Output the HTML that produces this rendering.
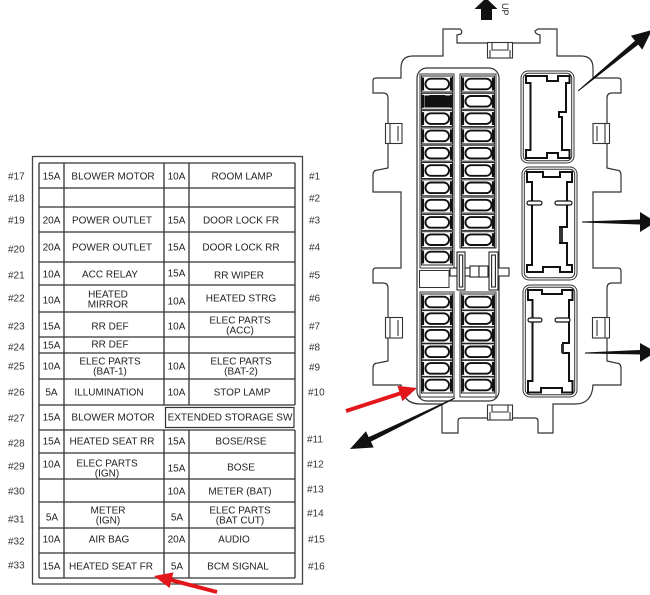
<!DOCTYPE html>
<html><head><meta charset="utf-8"><style>
html,body{margin:0;padding:0;background:#fff;}
svg{display:block;}
text{font-family:"Liberation Sans",Arial,sans-serif;}
</style></head><body>
<svg width="650" height="595" viewBox="0 0 650 595" xmlns="http://www.w3.org/2000/svg">
<defs>
<g id="fL">
 <rect x="421.5" y="-8" width="31" height="16" fill="#fff" stroke="#222" stroke-width="1"/>
 <line x1="422.8" y1="-6.5" x2="422.8" y2="6.5" stroke="#111" stroke-width="2.6"/>
 <line x1="451.2" y1="-6.5" x2="451.2" y2="6.5" stroke="#111" stroke-width="2.6"/>
 <rect x="425.5" y="-5.3" width="23.5" height="10.6" rx="5.3" fill="#fff" stroke="#111" stroke-width="1.9"/>
</g>
<g id="fR">
 <rect x="461.5" y="-8" width="33" height="16" fill="#fff" stroke="#222" stroke-width="1"/>
 <line x1="462.8" y1="-6.5" x2="462.8" y2="6.5" stroke="#111" stroke-width="2.6"/>
 <line x1="493.2" y1="-6.5" x2="493.2" y2="6.5" stroke="#111" stroke-width="2.6"/>
 <rect x="465.5" y="-5.3" width="26" height="10.6" rx="5.3" fill="#fff" stroke="#111" stroke-width="1.9"/>
</g>
</defs>

<!-- ================= TABLE ================= -->
<rect x="32.5" y="156.5" width="270" height="427.5" fill="none" stroke="#444" stroke-width="1.3"/>
<path d="M39 163H295 M39 188H295 M39 207H295 M39 232H295 M39 262H295 M39 285H295 M39 312H295 M39 337H295 M39 353H295 M39 379H295 M39 405H295 M39 430H295 M39 453H295 M39 479H295 M39 502H295 M39 528H295 M39 553H295 M39 578H295
 M39 163V578 M295 163V405 M295 430V578 M64 163V578 M164 163V405 M164 430V578 M189 163V405 M189 430V578" fill="none" stroke="#333" stroke-width="1.3"/>
<rect x="165.5" y="407.5" width="128.5" height="20" fill="none" stroke="#333" stroke-width="1.2"/>

<g font-size="10" fill="#222" text-anchor="middle">
 <!-- 17 -->
 <text x="51.5" y="179.6">15A</text><text x="113" y="179.6">BLOWER MOTOR</text><text x="176.5" y="179.6">10A</text><text x="242" y="179.6">ROOM LAMP</text>
 <!-- 19 -->
 <text x="51.5" y="223.6">20A</text><text x="112" y="223.6">POWER OUTLET</text><text x="176.5" y="223.6">15A</text><text x="241" y="223.6">DOOR LOCK FR</text>
 <!-- 20 -->
 <text x="51.5" y="250.6">20A</text><text x="112" y="250.6">POWER OUTLET</text><text x="176.5" y="250.6">15A</text><text x="241" y="250.6">DOOR LOCK RR</text>
 <!-- 21 -->
 <text x="51.5" y="277.6">10A</text><text x="110" y="277.6">ACC RELAY</text><text x="176.5" y="276.6">15A</text><text x="239" y="278.6">RR WIPER</text>
 <!-- 22 -->
 <text x="51.5" y="303.6">10A</text><text x="108" y="297.6">HEATED</text><text x="108" y="307.6">MIRROR</text><text x="176.5" y="304.6">10A</text><text x="241" y="301.6">HEATED STRG</text>
 <!-- 23 -->
 <text x="51.5" y="329.6">15A</text><text x="110" y="329.6">RR DEF</text><text x="176.5" y="329.6">10A</text><text x="240" y="323.6">ELEC PARTS</text><text x="240" y="333.6">(ACC)</text>
 <!-- 24 -->
 <text x="51.5" y="348.6">15A</text><text x="110" y="347.6">RR DEF</text>
 <!-- 25 -->
 <text x="51.5" y="369.6">10A</text><text x="110" y="364.6">ELEC PARTS</text><text x="110" y="374.6">(BAT-1)</text><text x="176.5" y="369.6">10A</text><text x="241" y="364.6">ELEC PARTS</text><text x="241" y="374.6">(BAT-2)</text>
 <!-- 26 -->
 <text x="51.5" y="395.6">5A</text><text x="109" y="395.6">ILLUMINATION</text><text x="176.5" y="395.6">10A</text><text x="242" y="395.6">STOP LAMP</text>
 <!-- 27 -->
 <text x="51.5" y="420.6">15A</text><text x="113" y="420.6">BLOWER MOTOR</text><text x="230" y="420.6">EXTENDED STORAGE SW</text>
 <!-- 28 -->
 <text x="51.5" y="444.6">15A</text><text x="112" y="444.6">HEATED SEAT RR</text><text x="176.5" y="444.6">15A</text><text x="241" y="444.6">BOSE/RSE</text>
 <!-- 29 -->
 <text x="51.5" y="467.6">10A</text><text x="107" y="466.6">ELEC PARTS</text><text x="107" y="476.6">(IGN)</text><text x="176.5" y="471.6">15A</text><text x="241" y="470.6">BOSE</text>
 <!-- 30 -->
 <text x="176.5" y="494.6">10A</text><text x="240" y="494.6">METER (BAT)</text>
 <!-- 31 -->
 <text x="52" y="520.6">5A</text><text x="108" y="513.6">METER</text><text x="108" y="523.6">(IGN)</text><text x="177" y="520.6">5A</text><text x="240" y="513.6">ELEC PARTS</text><text x="240" y="523.6">(BAT CUT)</text>
 <!-- 32 -->
 <text x="51.5" y="542.6">10A</text><text x="109" y="542.6">AIR BAG</text><text x="176.5" y="542.6">20A</text><text x="234" y="542.6">AUDIO</text>
 <!-- 33 -->
 <text x="51.5" y="569.6">15A</text><text x="111" y="569.6">HEATED SEAT FR</text><text x="177" y="569.6">5A</text><text x="238" y="569.6">BCM SIGNAL</text>
</g>

<g font-size="10" fill="#333">
 <text x="8" y="179.6">#17</text><text x="8" y="201.6">#18</text><text x="8" y="223.6">#19</text><text x="8" y="252.6">#20</text>
 <text x="8" y="278.6">#21</text><text x="8" y="301.6">#22</text><text x="8" y="329.6">#23</text><text x="8" y="350.6">#24</text>
 <text x="8" y="369.6">#25</text><text x="8" y="395.6">#26</text><text x="8" y="421.6">#27</text><text x="8" y="446.6">#28</text>
 <text x="8" y="469.6">#29</text><text x="8" y="494.6">#30</text><text x="8" y="522.6">#31</text><text x="8" y="544.6">#32</text>
 <text x="8" y="568.6">#33</text>
 <text x="309" y="179.6">#1</text><text x="309" y="201.6">#2</text><text x="309" y="223.6">#3</text><text x="309" y="250.6">#4</text>
 <text x="309" y="278.6">#5</text><text x="309" y="301.6">#6</text><text x="309" y="329.6">#7</text><text x="309" y="350.6">#8</text>
 <text x="309" y="370.6">#9</text><text x="308" y="395.6">#10</text><text x="307" y="442.6">#11</text><text x="307" y="467.6">#12</text>
 <text x="307" y="492.6">#13</text><text x="307" y="516.6">#14</text><text x="308" y="542.6">#15</text><text x="308" y="569.6">#16</text>
</g>

<!-- red arrow bottom of table -->
<polygon points="217.5,590.1 172,578.3 173.4,572.4 154,576 169.6,588 171,582.1 216.5,593.9" fill="#e3161b"/>

<!-- ================= HOUSING ================= -->
<path d="M457 43 L540 43 L540 35 Q535 34 535 31 L538 29 L557 29 L557 56 L581 56 Q593 56 593 68 L593 78 L618 78 Q621 78 621 81 L621 93 L612 93 Q607 93 607 98 L607 168 L616 170 Q621 170 621 175 L621 192 L593 192 L593 268 L618 268 Q621 268 621 271 L621 283 L612 283 Q607 283 607 288 L607 361 L616 363 Q621 363 621 368 L621 385 L593 385 Q592 404 575 404 L553 404 L553 433 L538 433 L538 421 Q538 418 535 418 L461 418 Q458 418 458 421 L458 433 L442 433 L442 404 L420 404 Q403 404 401 385 L373 385 L373 368 Q373 363 378 363 L388 361 L388 288 Q388 283 383 283 L373 283 L373 271 Q373 268 376 268 L401 268 L401 192 L373 192 L373 175 Q373 170 378 170 L388 168 L388 98 Q388 93 383 93 L373 93 L373 81 Q373 78 376 78 L401 78 L401 68 Q401 56 413 56 L443 56 L443 29 L460 29 Q463 31 461 34 L457 35 Z" fill="#fff" stroke="#333" stroke-width="1.2"/>

<!-- clips -->
<g fill="#fff" stroke="#333" stroke-width="1.1">
 <rect x="487.5" y="42.5" width="25" height="15.5"/>
 <path d="M492 43V50H508V43 M490 50V58 M510 50V58" fill="none"/>
 <rect x="487.5" y="405" width="25" height="15"/>
 <path d="M492 405V412H508V405 M490 412V420 M510 412V420" fill="none"/>
 <rect x="385.5" y="123.5" width="16.5" height="20"/>
 <path d="M390 124V143 M398 126V141" fill="none"/>
 <rect x="385.5" y="317.5" width="17" height="20.5"/>
 <path d="M390 318V338 M398 320V336" fill="none"/>
 <rect x="593" y="123.5" width="16.5" height="20"/>
 <path d="M605 124V143 M597 126V141" fill="none"/>
 <rect x="592.5" y="317.5" width="17" height="20.5"/>
 <path d="M605 318V338 M597 320V336" fill="none"/>
</g>

<!-- fuse block -->
<rect x="417" y="68" width="82" height="333" rx="10" fill="#fff" stroke="#333" stroke-width="1.2"/>
<g fill="none" stroke="#333" stroke-width="1">
 <rect x="420" y="74" width="34" height="194"/>
 <rect x="460" y="74" width="36" height="174"/>
 <rect x="420" y="292" width="34" height="105"/>
 <rect x="460" y="292" width="36" height="105"/>
 <rect x="419.5" y="270.5" width="29.5" height="17"/>
</g>

<use href="#fL" y="84"/><use href="#fL" y="101.3"/><use href="#fL" y="118.6"/><use href="#fL" y="135.9"/>
<use href="#fL" y="153.2"/><use href="#fL" y="170.5"/><use href="#fL" y="187.8"/><use href="#fL" y="205.1"/>
<use href="#fL" y="222.4"/><use href="#fL" y="239.7"/><use href="#fL" y="257"/>
<use href="#fR" y="84"/><use href="#fR" y="101.3"/><use href="#fR" y="118.6"/><use href="#fR" y="135.9"/>
<use href="#fR" y="153.2"/><use href="#fR" y="170.5"/><use href="#fR" y="187.8"/><use href="#fR" y="205.1"/>
<use href="#fR" y="222.4"/><use href="#fR" y="239.7"/>
<use href="#fL" y="302"/><use href="#fL" y="318.6"/><use href="#fL" y="335.2"/><use href="#fL" y="351.8"/><use href="#fL" y="368.4"/><use href="#fL" y="385"/>
<use href="#fR" y="302"/><use href="#fR" y="318.6"/><use href="#fR" y="335.2"/><use href="#fR" y="351.8"/><use href="#fR" y="368.4"/><use href="#fR" y="385"/>
<rect x="424.5" y="95.5" width="25.5" height="12" fill="#111"/>

<!-- jumper between sections -->
<g fill="#fff" stroke="#222" stroke-width="1.1">
 <rect x="450" y="268" width="59" height="8"/>
 <rect x="457" y="252" width="8" height="38"/>
 <rect x="459.3" y="255" width="3.4" height="32"/>
 <rect x="489" y="252" width="9" height="38"/>
 <rect x="491.6" y="255" width="3.8" height="32"/>
 <rect x="470" y="266" width="9" height="11"/>
 <rect x="479" y="266" width="9" height="11"/>
</g>

<!-- right connectors -->
<g fill="#fff" stroke="#333" stroke-width="1">
 <rect x="521" y="71" width="53" height="92" rx="7"/>
 <rect x="523.3" y="73.3" width="48.4" height="87.4" rx="5"/>
 <rect x="522" y="167" width="55" height="113" rx="7"/>
 <rect x="524.3" y="169.3" width="50.4" height="108.4" rx="5"/>
 <rect x="523" y="285" width="54" height="112" rx="7"/>
 <rect x="525.3" y="287.3" width="49.4" height="107.4" rx="5"/>
</g>
<g fill="#fff" stroke="#111" stroke-width="2">
 <polygon points="526,76 547,76 547,81 558,81 558,76 569.5,76 569.5,83 566,83 566,112 559,112 559,117 562,117 562,150 569.5,150 569.5,158 558,158 558,153 547,153 547,158 526,158 526,150 530.5,150 530.5,83 526,83"/>
 <polygon points="527,172 543,172 543,177 560,177 560,172 572,172 572,182 567,182 567,227 560,227 560,243 567,243 567,265 572,265 572,272 560,272 560,267 543,267 543,272 527,272 527,265 532,265 532,182 527,182"/>
 <polygon points="528,290 542,290 542,294 562,294 562,290 572.5,290 572.5,300 569,300 569,343 563,343 563,353 569,353 569,381 572.5,381 572.5,392.5 562,392.5 562,388 541,388 541,392.5 528,392.5 528,381 532.5,381 532.5,300 528,300"/>
</g>
<g fill="#fff" stroke="#111" stroke-width="1.2">
 <rect x="527" y="201" width="15" height="4" rx="2"/>
 <rect x="555" y="201" width="17" height="4" rx="2"/>
 <rect x="528" y="318" width="14" height="4" rx="2"/>
 <rect x="555" y="318" width="15" height="4" rx="2"/>
</g>
<rect x="559" y="228" width="4" height="14" fill="#333"/>
<rect x="561" y="344" width="3" height="9" fill="#333"/>

<!-- UP arrow -->
<polygon points="486,-2 497.5,9 492,9 492,20 481,20 481,9 474.5,9" fill="#111"/>
<text transform="translate(502,3) rotate(90)" font-size="9" fill="#222">UP</text>

<!-- black arrows -->
<polygon points="577.7,90.6 635,40.8 630.9,35.8 652,30 642.3,49.6 638.2,44.6 578.3,91.4" fill="#111"/>
<polygon points="582,221.5 640,219.5 640,212 656,222 640,232 640,224.5 582,222.5" fill="#111"/>
<polygon points="585,352.5 640,350 640,343 656,352 640,362 640,354.5 585,353.5" fill="#111"/>
<polygon points="454.8,397.55 368.7,437.15 365.9,431.3 350,449 373.7,447.5 370.9,441.65 455.2,398.45" fill="#111"/>

<!-- red arrow at fuse block -->
<polygon points="345.4,409.1 399.3,391.6 397.4,385.9 417,388 402.4,401.1 400.5,395.4 346.6,412.9" fill="#e3161b"/>
</svg>
</body></html>
